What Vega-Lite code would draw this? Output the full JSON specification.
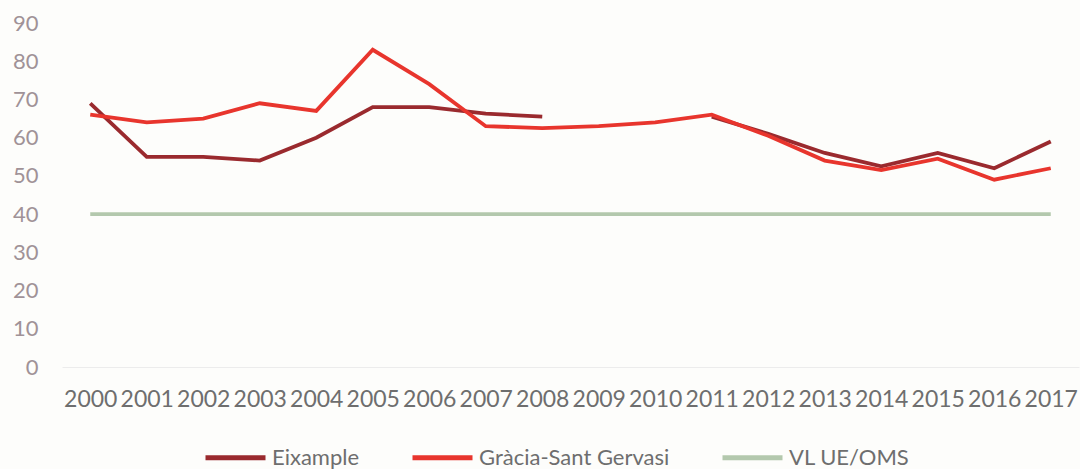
{
  "$schema": "https://vega.github.io/schema/vega-lite/v6.json",
  "width": 1017,
  "height": 344,
  "autosize": {"type": "none"},
  "padding": {"left": 62, "top": 23, "right": 1, "bottom": 102},
  "background": "#fdfdfb",
  "config": {
    "view": {"stroke": null},
    "font": "Lato",
    "mark": {"invalid": "break-paths-show-domains"}
  },
  "data": {
    "values": [
      {"year": "2000", "series": "Eixample", "value": 69},
      {"year": "2001", "series": "Eixample", "value": 55},
      {"year": "2002", "series": "Eixample", "value": 55},
      {"year": "2003", "series": "Eixample", "value": 54},
      {"year": "2004", "series": "Eixample", "value": 60},
      {"year": "2005", "series": "Eixample", "value": 68},
      {"year": "2006", "series": "Eixample", "value": 68},
      {"year": "2007", "series": "Eixample", "value": 66.3},
      {"year": "2008", "series": "Eixample", "value": 65.5},
      {"year": "2009", "series": "Eixample", "value": null},
      {"year": "2010", "series": "Eixample", "value": null},
      {"year": "2011", "series": "Eixample", "value": 65.5},
      {"year": "2012", "series": "Eixample", "value": 61},
      {"year": "2013", "series": "Eixample", "value": 56},
      {"year": "2014", "series": "Eixample", "value": 52.5},
      {"year": "2015", "series": "Eixample", "value": 56},
      {"year": "2016", "series": "Eixample", "value": 52},
      {"year": "2017", "series": "Eixample", "value": 59},
      {"year": "2000", "series": "Gràcia-Sant Gervasi", "value": 66},
      {"year": "2001", "series": "Gràcia-Sant Gervasi", "value": 64},
      {"year": "2002", "series": "Gràcia-Sant Gervasi", "value": 65},
      {"year": "2003", "series": "Gràcia-Sant Gervasi", "value": 69},
      {"year": "2004", "series": "Gràcia-Sant Gervasi", "value": 67},
      {"year": "2005", "series": "Gràcia-Sant Gervasi", "value": 83},
      {"year": "2006", "series": "Gràcia-Sant Gervasi", "value": 74},
      {"year": "2007", "series": "Gràcia-Sant Gervasi", "value": 63},
      {"year": "2008", "series": "Gràcia-Sant Gervasi", "value": 62.5},
      {"year": "2009", "series": "Gràcia-Sant Gervasi", "value": 63},
      {"year": "2010", "series": "Gràcia-Sant Gervasi", "value": 64},
      {"year": "2011", "series": "Gràcia-Sant Gervasi", "value": 66},
      {"year": "2012", "series": "Gràcia-Sant Gervasi", "value": 60.5},
      {"year": "2013", "series": "Gràcia-Sant Gervasi", "value": 54},
      {"year": "2014", "series": "Gràcia-Sant Gervasi", "value": 51.5},
      {"year": "2015", "series": "Gràcia-Sant Gervasi", "value": 54.5},
      {"year": "2016", "series": "Gràcia-Sant Gervasi", "value": 49},
      {"year": "2017", "series": "Gràcia-Sant Gervasi", "value": 52},
      {"year": "2000", "series": "VL UE/OMS", "value": 40},
      {"year": "2001", "series": "VL UE/OMS", "value": 40},
      {"year": "2002", "series": "VL UE/OMS", "value": 40},
      {"year": "2003", "series": "VL UE/OMS", "value": 40},
      {"year": "2004", "series": "VL UE/OMS", "value": 40},
      {"year": "2005", "series": "VL UE/OMS", "value": 40},
      {"year": "2006", "series": "VL UE/OMS", "value": 40},
      {"year": "2007", "series": "VL UE/OMS", "value": 40},
      {"year": "2008", "series": "VL UE/OMS", "value": 40},
      {"year": "2009", "series": "VL UE/OMS", "value": 40},
      {"year": "2010", "series": "VL UE/OMS", "value": 40},
      {"year": "2011", "series": "VL UE/OMS", "value": 40},
      {"year": "2012", "series": "VL UE/OMS", "value": 40},
      {"year": "2013", "series": "VL UE/OMS", "value": 40},
      {"year": "2014", "series": "VL UE/OMS", "value": 40},
      {"year": "2015", "series": "VL UE/OMS", "value": 40},
      {"year": "2016", "series": "VL UE/OMS", "value": 40},
      {"year": "2017", "series": "VL UE/OMS", "value": 40}
    ]
  },
  "mark": {"type": "line", "strokeJoin": "miter", "strokeCap": "butt", "strokeWidth": 3.8},
  "encoding": {
    "x": {
      "field": "year",
      "type": "ordinal",
      "scale": {"type": "point", "padding": 0.5},
      "axis": {
        "title": null,
        "labelAngle": 0,
        "ticks": false,
        "domain": true,
        "domainColor": "#ececec",
        "domainWidth": 1,
        "labelFont": "Lato",
        "labelFontSize": 23,
        "labelColor": "#6e6e6e",
        "labelPadding": 21,
        "labelOverlap": false
      }
    },
    "y": {
      "field": "value",
      "type": "quantitative",
      "scale": {"domain": [0, 90], "nice": false},
      "axis": {
        "title": null,
        "values": [0, 10, 20, 30, 40, 50, 60, 70, 80, 90],
        "ticks": false,
        "domain": false,
        "grid": false,
        "labelFont": "Lato",
        "labelFontSize": 22,
        "labelColor": "#a09297",
        "labelPadding": 24
      }
    },
    "color": {
      "field": "series",
      "type": "nominal",
      "sort": ["Eixample", "Gràcia-Sant Gervasi", "VL UE/OMS"],
      "scale": {
        "domain": ["Eixample", "Gràcia-Sant Gervasi", "VL UE/OMS"],
        "range": ["#9a2a2e", "#e8352d", "#b3c8ad"]
      },
      "legend": {
        "title": null,
        "orient": "none",
        "legendX": 141,
        "legendY": 402,
        "direction": "horizontal",
        "symbolType": "stroke",
        "symbolSize": 3600,
        "symbolStrokeWidth": 5,
        "labelFont": "Lato",
        "labelFontSize": 22,
        "labelColor": "#6e6e6e",
        "labelOffset": 4,
        "columnPadding": 42,
        "labelLimit": 400
      }
    },
    "order": {"field": "year"}
  }
}
